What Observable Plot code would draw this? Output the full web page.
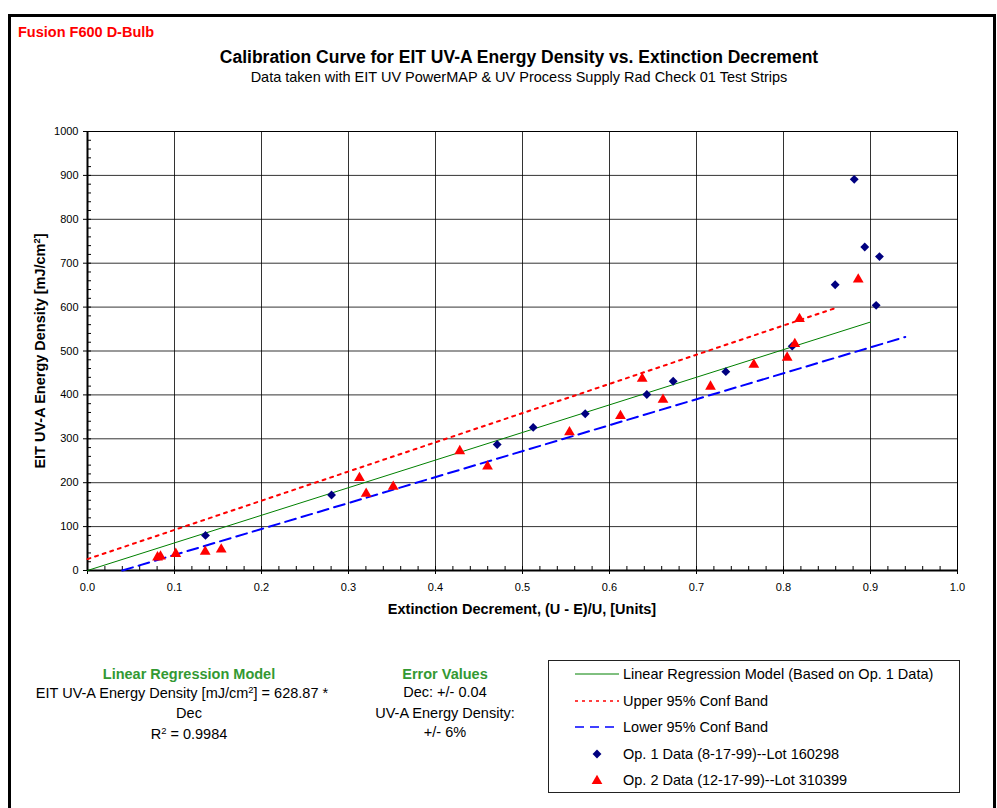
<!DOCTYPE html>
<html>
<head>
<meta charset="utf-8">
<script src="https://cdn.jsdelivr.net/npm/d3@7"></script>
<script src="https://cdn.jsdelivr.net/npm/@observablehq/plot@0.6"></script>
<style>
  html, body { margin: 0; padding: 0; background: #fff; }
  #chart { position: relative; width: 997px; height: 808px; overflow: hidden; }
</style>
</head>
<body>
<div id="chart"></div>
<script>
// ---- Data ----
const op1Dec = [0.1356, 0.2805, 0.4709, 0.5123, 0.5721, 0.6429, 0.6732, 0.7337, 0.8100, 0.8594, 0.8813, 0.8934, 0.9103, 0.9065];
const op1Energy = [80, 172, 287, 326, 357, 401, 431, 453, 511, 651, 891, 737, 715, 604];

const op2Dec = [0.0805, 0.0839, 0.1015, 0.1353, 0.1537, 0.3126, 0.3203, 0.3514, 0.4279, 0.4598, 0.5540, 0.6126, 0.6376, 0.6615, 0.7161, 0.7659, 0.8042, 0.8130, 0.8184, 0.8859];
const op2Energy = [30, 32, 38, 43, 48, 211, 175, 191, 272, 237, 315, 352, 437, 389, 419, 469, 485, 516, 573, 663];

const regDec = [0, 0.9];
const regEnergy = [0, 566];
const upperDec = [0, 0.86];
const upperEnergy = [26, 598];
const lowerDec = [0.04, 0.94];
const lowerEnergy = [0, 532];

const xTicks = [0, 0.1, 0.2, 0.3, 0.4, 0.5, 0.6, 0.7, 0.8, 0.9, 1];
const yTicks = [0, 100, 200, 300, 400, 500, 600, 700, 800, 900, 1000];
const xMinor = d3.range(0, 51).map(i => i / 50);
const yMinor = d3.range(0, 51).map(i => i * 20);

const seriesNames = [
  "Linear Regression Model (Based on Op. 1 Data)",
  "Upper 95% Conf Band",
  "Lower 95% Conf Band",
  "Op. 1 Data (8-17-99)--Lot 160298",
  "Op. 2 Data (12-17-99)--Lot 310399"
];

// ---- Tables built from the arrays ----
const op1 = op1Dec.map((x, i) => ({x, y: op1Energy[i]}));
const op2 = op2Dec.map((x, i) => ({x, y: op2Energy[i]}));
const reg = regDec.map((x, i) => ({x, y: regEnergy[i]}));
const upper = upperDec.map((x, i) => ({x, y: upperEnergy[i]}));
const lower = lowerDec.map((x, i) => ({x, y: lowerEnergy[i]}));

const FONT = "'Liberation Sans', Arial, Helvetica, sans-serif";
const GREEN_TEXT = "#339933";

const plot = Plot.plot({
  width: 997,
  height: 808,
  marginLeft: 87,
  marginRight: 40,
  marginTop: 131,
  marginBottom: 238,
  style: {fontFamily: FONT, fontSize: "11px", color: "#000", background: "#fff", overflow: "visible"},
  x: {domain: [0, 1]},
  y: {domain: [0, 1000]},
  marks: [
    Plot.gridX(xTicks, {stroke: "#000", strokeOpacity: 0.8}),
    Plot.gridY(yTicks, {stroke: "#000", strokeOpacity: 0.8}),
    Plot.frame({stroke: "#000", strokeWidth: 1}),
    Plot.axisX(xMinor, {tickSize: -4, text: null, label: null, stroke: "#000"}),
    Plot.axisY(yMinor, {tickSize: -4, text: null, label: null, stroke: "#000"}),
    Plot.axisX(xTicks, {tickSize: 4, tickPadding: 9, label: null, fontSize: 11, stroke: "#000"}),
    Plot.axisY(yTicks, {tickSize: 4, tickPadding: 5, label: null, fontSize: 11, stroke: "#000", tickFormat: d3.format("d")}),
    Plot.ruleX([0], {stroke: "#000", strokeWidth: 2}),
    Plot.ruleY([0], {stroke: "#000", strokeWidth: 2}),
    Plot.line(upper, {x: "x", y: "y", stroke: "#ff0000", strokeWidth: 2, strokeDasharray: "3,5"}),
    Plot.line(lower, {x: "x", y: "y", stroke: "#0000ff", strokeWidth: 2, strokeDasharray: "11,6"}),
    Plot.line(reg, {x: "x", y: "y", stroke: "#008000", strokeWidth: 1}),
    Plot.dot(op1, {x: "x", y: "y", symbol: "diamond2", r: 4, fill: "#000080", stroke: "none"}),
    Plot.dot(op2, {x: "x", y: "y", symbol: "triangle", r: 4, fill: "#ff0000", stroke: "none"})
  ]
});

document.getElementById("chart").appendChild(plot);

const svg = d3.select(plot);

// outer thick border
svg.append("rect")
  .attr("x", 9.5).attr("y", 15.5).attr("width", 985).attr("height", 900)
  .attr("fill", "none").attr("stroke", "#000").attr("stroke-width", 3);

function addText(x, y, str, opts = {}) {
  const t = svg.append("text")
    .attr("x", x).attr("y", y)
    .attr("font-family", FONT)
    .attr("font-size", opts.size || 14.5)
    .attr("font-weight", opts.bold ? "bold" : "normal")
    .attr("fill", opts.color || "#000")
    .attr("text-anchor", opts.anchor || "middle");
  if (opts.transform) t.attr("transform", opts.transform);
  return t.text(str);
}

function addSupText(x, y, before, sup, after, opts = {}) {
  const size = opts.size || 14.5;
  const t = svg.append("text")
    .attr("x", x).attr("y", y)
    .attr("font-family", FONT)
    .attr("font-size", size)
    .attr("font-weight", opts.bold ? "bold" : "normal")
    .attr("fill", opts.color || "#000")
    .attr("text-anchor", opts.anchor || "middle");
  if (opts.transform) t.attr("transform", opts.transform);
  t.append("tspan").text(before);
  t.append("tspan").attr("dy", -5).attr("font-size", size * 0.65).text(sup);
  t.append("tspan").attr("dy", 5).text(after);
  return t;
}

addText(18, 37, "Fusion F600 D-Bulb", {bold: true, size: 14.5, color: "#ff0000", anchor: "start"});
addText(519, 63, "Calibration Curve for EIT UV-A Energy Density vs. Extinction Decrement", {bold: true, size: 17.5});
addText(519, 82, "Data taken with EIT UV PowerMAP & UV Process Supply Rad Check 01 Test Strips", {size: 14.5});

addSupText(0, 0, "EIT UV-A Energy Density [mJ/cm", "2", "]", {bold: true, size: 14.5, transform: "translate(45,351) rotate(-90)"});
addText(522, 614, "Extinction Decrement, (U - E)/U, [Units]", {bold: true, size: 14.5});

// Regression text block
addText(189, 679, "Linear Regression Model", {bold: true, color: GREEN_TEXT});
addSupText(182, 698, "EIT UV-A Energy Density [mJ/cm", "2", "] = 628.87 *");
addText(189, 718, "Dec");
addSupText(189, 739, "R", "2", " = 0.9984");

// Error values block
addText(445, 679, "Error Values", {bold: true, color: GREEN_TEXT});
addText(445, 697, "Dec: +/- 0.04");
addText(445, 718, "UV-A Energy Density:");
addText(445, 737, "+/- 6%");

// Legend
svg.append("rect")
  .attr("x", 548.5).attr("y", 660.5).attr("width", 411).attr("height", 132)
  .attr("fill", "#fff").attr("stroke", "#222").attr("stroke-width", 1);

const rowsY = [674, 701, 727, 754, 780];
const lg = svg.append("g");
lg.append("line").attr("x1", 575).attr("x2", 619).attr("y1", rowsY[0]).attr("y2", rowsY[0])
  .attr("stroke", "#008000").attr("stroke-width", 1);
lg.append("line").attr("x1", 575).attr("x2", 619).attr("y1", rowsY[1]).attr("y2", rowsY[1])
  .attr("stroke", "#ff0000").attr("stroke-width", 1.5).attr("stroke-dasharray", "3,4");
lg.append("line").attr("x1", 575).attr("x2", 619).attr("y1", rowsY[2]).attr("y2", rowsY[2])
  .attr("stroke", "#0000ff").attr("stroke-width", 1.5).attr("stroke-dasharray", "9,6");
lg.append("path").attr("d", d3.symbol(d3.symbolDiamond2, 50)())
  .attr("transform", `translate(597,${rowsY[3]})`).attr("fill", "#000080");
lg.append("path").attr("d", d3.symbol(d3.symbolTriangle, 50)())
  .attr("transform", `translate(597,${rowsY[4] + 1})`).attr("fill", "#ff0000");
seriesNames.forEach((name, i) => {
  addText(623, rowsY[i] + 5, name, {anchor: "start"});
});
</script>
</body>
</html>
